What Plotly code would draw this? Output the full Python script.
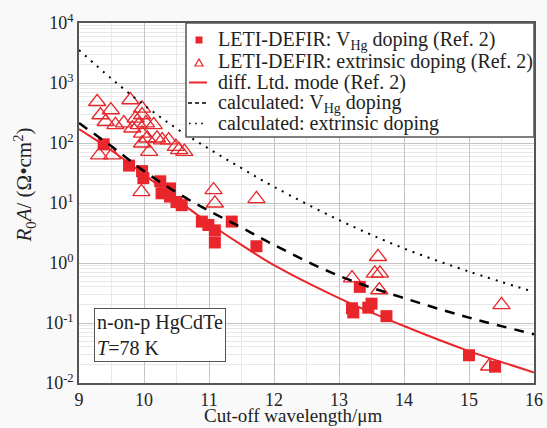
import plotly.graph_objects as go

# --- data ---
sq_x = [9.38, 9.77, 9.97, 9.99, 10.25, 10.27, 10.40, 10.40, 10.50, 10.58, 10.89, 10.99,
        11.09, 11.09, 11.35, 11.73, 13.20, 13.22, 13.32, 13.45, 13.50, 13.73, 15.00, 15.40]
sq_y = [95, 42, 34, 26, 23, 14.5, 17.5, 12.8, 10.4, 9.2, 4.9, 4.3,
        3.5, 2.2, 4.9, 1.9, 0.176, 0.15, 0.40, 0.18, 0.21, 0.13, 0.029, 0.0187]

tri_x = [9.28, 9.79, 9.49, 9.33, 9.97, 9.97, 9.41, 9.56, 9.69, 9.82, 9.92, 10.03, 10.15,
         9.97, 10.05, 9.97, 10.20, 10.28, 10.38, 10.49, 10.62, 9.31, 9.51, 10.08, 10.54,
         9.87, 9.96, 11.07, 11.09, 11.73, 13.20, 13.60, 13.55, 13.63, 13.62, 15.50, 15.31]
tri_y = [487, 521, 355, 293, 378, 293, 226, 200, 214, 176, 200, 214, 200,
         145, 120, 99, 120, 112, 112, 87, 72, 63, 63, 72, 77,
         258, 15.3, 16.5, 9.9, 11.7, 0.56, 1.27, 0.67, 0.67, 0.355, 0.20, 0.019]

lam = [9, 9.5, 10, 10.5, 11, 11.5, 12, 13, 14, 15, 16]
diff_ltd = [170, 75, 30, 11.5, 4.6, 2.0, 0.92, 0.26, 0.089, 0.034, 0.015]
calc_vhg = [215, 88, 34, 15, 7.4, 3.9, 2.0, 0.61, 0.26, 0.123, 0.065]
calc_ext = [3550, 1180, 430, 175, 80, 38, 18.6, 5.2, 1.75, 0.72, 0.33]

y_tickvals = [1e-2, 1e-1, 1, 10, 100, 1000, 10000]
y_ticktext = ["10<sup>-2</sup>", "10<sup>-1</sup>", "10<sup>0</sup>", "10<sup>1</sup>",
              "10<sup>2</sup>", "10<sup>3</sup>", "10<sup>4</sup>"]

legend_labels = ["LETI-DEFIR: V<sub>Hg</sub> doping (Ref. 2)",
                 "LETI-DEFIR: extrinsic doping (Ref. 2)",
                 "diff. Ltd. mode (Ref. 2)",
                 "calculated: V<sub>Hg</sub> doping",
                 "calculated: extrinsic doping"]

x_title = "Cut-off wavelength/μm"
y_title = "<i>R</i><sub>0</sub><i>A</i>/ (Ω•cm<sup>2</sup>)"
box_text = "n-on-p HgCdTe<br><i>T</i>=78 K"

RED = "#e8262b"
INK = "#222222"
FONT = "Liberation Serif"

W, H = 547, 428
ML, MR, MT, MB = 79, 13, 23, 45
PW, PH = W - ML - MR, H - MT - MB


def px(x):
    return (x - ML) / PW


def py(y):
    return (H - MB - y) / PH


fig = go.Figure()
fig.add_trace(go.Scatter(x=sq_x, y=sq_y, mode="markers", name=legend_labels[0],
                         marker=dict(symbol="square", size=12, color=RED)))
fig.add_trace(go.Scatter(x=tri_x, y=tri_y, mode="markers", name=legend_labels[1],
                         marker=dict(symbol="triangle-up-open", size=15, color=RED,
                                     line=dict(width=1.3, color=RED))))
fig.add_trace(go.Scatter(x=lam, y=diff_ltd, mode="lines", name=legend_labels[2],
                         line=dict(color=RED, width=2, shape="spline")))
fig.add_trace(go.Scatter(x=lam, y=calc_vhg, mode="lines", name=legend_labels[3],
                         line=dict(color="black", width=2.5, dash="10px,8px", shape="spline")))
fig.add_trace(go.Scatter(x=lam, y=calc_ext, mode="lines", name=legend_labels[4],
                         line=dict(color="black", width=2, dash="2px,6px", shape="spline")))

axis_common = dict(showline=True, linecolor="#555555", linewidth=1.5, mirror=True,
                   gridcolor="#c4c4c4", gridwidth=1, zeroline=False, ticks="",
                   automargin=False,
                   tickfont=dict(family=FONT, size=18, color=INK))

fig.update_xaxes(range=[9, 16], dtick=1, tick0=9, ticklabelstandoff=0,
                 minor=dict(dtick=0.5, showgrid=True, gridcolor="#e8e8e8"),
                 **axis_common)
fig.update_yaxes(type="log", range=[-2, 4], tickvals=y_tickvals, ticktext=y_ticktext,
                 minor=dict(dtick="D1", showgrid=True, gridcolor="#e8e8e8"),
                 **axis_common)

# axis titles (placed like the reference)
fig.add_annotation(xref="paper", yref="paper", x=px(293), y=py(415.5), xanchor="center", yanchor="middle",
                   text=x_title, showarrow=False, font=dict(family=FONT, size=19, color=INK))
fig.add_annotation(xref="paper", yref="paper", x=px(24.5), y=py(185), xanchor="center", yanchor="middle",
                   text=y_title, showarrow=False, textangle=-90, font=dict(family=FONT, size=21, color=INK))

# text box
fig.add_annotation(xref="x", yref="paper", x=9.23, y=py(362), xanchor="left", yanchor="bottom",
                   text=box_text, showarrow=False, align="left",
                   font=dict(family=FONT, size=20, color=INK),
                   bgcolor="white", bordercolor="#555555", borderwidth=1, borderpad=2)

# manual legend (compact line spacing like the reference)
shapes = [dict(type="rect", xref="paper", yref="paper", x0=px(186), x1=px(534), y0=py(137), y1=py(23),
               fillcolor="white", line=dict(color="#555555", width=1.5), layer="above")]
rows = [40, 62, 82.5, 103, 123.5]
shapes.append(dict(type="rect", xref="paper", yref="paper", x0=px(195.5), x1=px(202.5),
                   y0=py(rows[0] + 3.5), y1=py(rows[0] - 3.5), fillcolor=RED, line=dict(width=0),
                   layer="above"))
tx, ty = 199, rows[1] + 1
shapes.append(dict(type="path", xref="paper", yref="paper",
                   path=f"M {px(tx-4)} {py(ty+3)} L {px(tx+4)} {py(ty+3)} L {px(tx)} {py(ty-4)} Z",
                   line=dict(color=RED, width=1.2), fillcolor="rgba(0,0,0,0)", layer="above"))
shapes.append(dict(type="line", xref="paper", yref="paper", x0=px(189), x1=px(207),
                   y0=py(rows[2]), y1=py(rows[2]), line=dict(color=RED, width=2), layer="above"))
shapes.append(dict(type="line", xref="paper", yref="paper", x0=px(188), x1=px(207),
                   y0=py(rows[3]), y1=py(rows[3]), line=dict(color="black", width=1.6, dash="4px,3px"),
                   layer="above"))
shapes.append(dict(type="line", xref="paper", yref="paper", x0=px(189), x1=px(207),
                   y0=py(rows[4]), y1=py(rows[4]), line=dict(color="black", width=1.6, dash="1.6px,4.5px"),
                   layer="above"))

for r, lab in zip(rows, legend_labels):
    fig.add_annotation(xref="paper", yref="paper", x=px(216), y=py(r), xanchor="left", yanchor="middle",
                       text=lab, showarrow=False, align="left",
                       font=dict(family=FONT, size=20, color=INK))

fig.update_layout(
    width=W, height=H,
    margin=dict(l=ML, r=MR, t=MT, b=MB),
    paper_bgcolor="#f9f9f9", plot_bgcolor="white",
    font=dict(family=FONT, size=18, color=INK),
    showlegend=False,
    shapes=shapes,
)

fig.write_html("out.html")
